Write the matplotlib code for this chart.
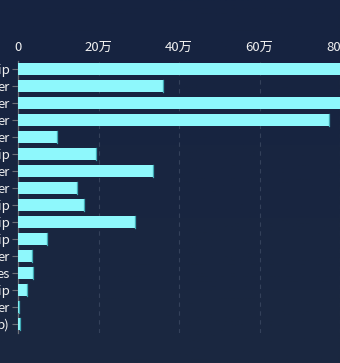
import matplotlib
matplotlib.use("Agg")
import numpy as np
import matplotlib.pyplot as plt
from matplotlib.colors import LinearSegmentedColormap

plt.rcParams['font.family'] = ['Noto Sans CJK SC', 'DejaVu Sans']

# visible (clipped) category labels, top to bottom
labels = ["ip", "er", "er", "er", "er", "ip", "er", "er",
          "ip", "ip", "ip", "er", "es", "ip", "er", "p)"]
# values (in units of 1)
values = [880000, 360000, 950000, 773000, 97000, 195000, 335000, 147000,
          165000, 290000, 73000, 34000, 37000, 22000, 2000, 4000]
xticks = [0, 200000, 400000, 600000, 800000]

W, H = 340, 363
fig = plt.figure(figsize=(W / 100, H / 100), dpi=100)

# background gradient
bg = fig.add_axes([0, 0, 1, 1], zorder=-1)
cmap = LinearSegmentedColormap.from_list("bg", ["#162340", "#1b2840"])
grad = np.linspace(0, 1, 256).reshape(-1, 1)
bg.imshow(grad, aspect="auto", cmap=cmap, extent=[0, 1, 0, 1], origin="upper")
bg.axis("off")

left = 18 / W
top = 1 - 60.5 / H
bottom = 1 - 332.5 / H
ax = fig.add_axes([left, bottom, 1 - left, top - bottom])
ax.set_facecolor("none")

y = np.arange(len(labels))
ax.barh(y, values, height=0.68, color="#8ef8fc", edgecolor="none", zorder=3)
# darker cap at bar end
for yi, v in zip(y, values):
    ax.plot([v, v], [yi - 0.34, yi + 0.34], color="#3fa9b4", lw=0.9, zorder=4)

ax.set_xlim(0, 800000)
ax.set_ylim(len(labels) - 0.5, -0.5)

ax.xaxis.tick_top()
ax.set_xticks(xticks)
ax.set_xticklabels(["0" if t == 0 else f"{t // 10000}万" for t in xticks])
ax.tick_params(axis="x", length=0, pad=5, labelsize=9.5, colors="#f0f0f0")
ax.set_yticks(y)
ax.set_yticklabels(labels)
ax.tick_params(axis="y", length=4, width=0.8, color="#6e7079", pad=2,
               labelsize=9.5, labelcolor="#f0f0f0")

for s in ["top", "right", "bottom"]:
    ax.spines[s].set_visible(False)
ax.spines["left"].set_color("#6e7079")
ax.spines["left"].set_linewidth(0.9)

for t in xticks[1:]:
    ax.axvline(t, color="#34415a", lw=0.8, ls=(0, (4, 4)), zorder=1)

fig.savefig("out.png", dpi=100, facecolor="#182440")
